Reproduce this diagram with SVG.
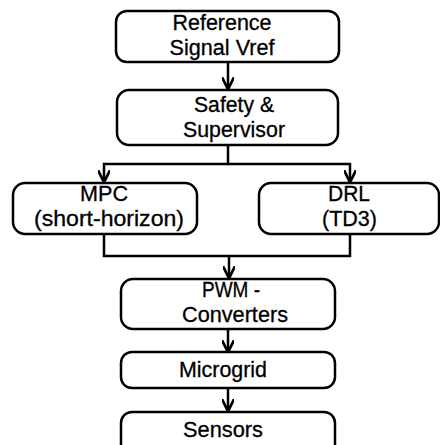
<svg xmlns="http://www.w3.org/2000/svg" width="440" height="445" viewBox="0 0 440 445">
<style>
.box{fill:#fff;stroke:#000;stroke-width:2.5}
.t{font-family:"Liberation Sans",Arial,sans-serif;font-size:21.5px;fill:#000;stroke:#000;stroke-width:0.3;text-anchor:middle}
.c{fill:none;stroke:#000;stroke-width:2.5}
</style>
<defs>
<marker id="ah" viewBox="0 0 10 10" refX="9" refY="5" markerWidth="5" markerHeight="5" orient="auto" markerUnits="strokeWidth">
<path d="M0,0 L10,5 L0,10" fill="none" stroke="#000" stroke-width="2.2"/>
</marker>
</defs>
<rect width="440" height="445" fill="#fff"/>
<g id="connectors">
<line class="c" x1="228" y1="62" x2="228" y2="88" marker-end="url(#ah)"/>
<polyline class="c" points="228,145 228,164 104,164 104,181" marker-end="url(#ah)"/>
<polyline class="c" points="228,164 350,164 350,181" marker-end="url(#ah)"/>
<polyline class="c" points="104,234 104,256 350,256 350,234"/>
<line class="c" x1="229" y1="256" x2="229" y2="277" marker-end="url(#ah)"/>
<line class="c" x1="228" y1="329" x2="228" y2="351" marker-end="url(#ah)"/>
<line class="c" x1="228" y1="388" x2="228" y2="410" marker-end="url(#ah)"/>
</g>
<g id="reference">
<rect class="box" x="116" y="11" width="223" height="51" rx="11"/>
<text class="t" x="222" y="30" textLength="99" lengthAdjust="spacingAndGlyphs">Reference</text>
<text class="t" x="222" y="54.5" textLength="105" lengthAdjust="spacingAndGlyphs">Signal Vref</text>
</g>
<g id="safety">
<rect class="box" x="117" y="90" width="221" height="55" rx="12"/>
<text class="t" x="234" y="112" textLength="80" lengthAdjust="spacingAndGlyphs">Safety &amp;</text>
<text class="t" x="234" y="136.5" textLength="102" lengthAdjust="spacingAndGlyphs">Supervisor</text>
</g>
<g id="mpc">
<rect class="box" x="13" y="183" width="184" height="51" rx="12"/>
<text class="t" x="104" y="201" textLength="48" lengthAdjust="spacingAndGlyphs">MPC</text>
<text class="t" x="109" y="225.5" textLength="150" lengthAdjust="spacingAndGlyphs">(short-horizon)</text>
</g>
<g id="drl">
<rect class="box" x="259" y="183" width="180" height="51" rx="12"/>
<text class="t" x="349" y="201" textLength="42" lengthAdjust="spacingAndGlyphs">DRL</text>
<text class="t" x="349.5" y="225.5" textLength="55" lengthAdjust="spacingAndGlyphs">(TD3)</text>
</g>
<g id="pwm">
<rect class="box" x="121" y="279" width="214" height="50" rx="12"/>
<text class="t" x="231" y="297" textLength="58" lengthAdjust="spacingAndGlyphs">PWM -</text>
<text class="t" x="235" y="321.5" textLength="106" lengthAdjust="spacingAndGlyphs">Converters</text>
</g>
<g id="microgrid">
<rect class="box" x="121" y="352" width="214" height="36" rx="11"/>
<text class="t" x="223" y="377" textLength="88" lengthAdjust="spacingAndGlyphs">Microgrid</text>
</g>
<g id="sensors">
<rect class="box" x="121" y="412" width="214" height="45" rx="11"/>
<text class="t" x="223" y="437" textLength="80" lengthAdjust="spacingAndGlyphs">Sensors</text>
</g>
</svg>
